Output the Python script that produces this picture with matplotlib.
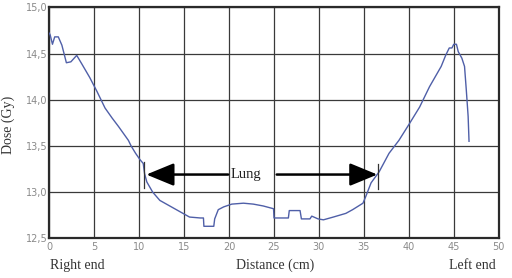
import matplotlib
matplotlib.use("Agg")
import matplotlib.pyplot as plt
from matplotlib.ticker import FuncFormatter

distance_cm = [0.0, 0.1, 0.35, 0.6, 1.0, 1.4, 1.9, 2.4, 3.05, 3.6, 4.5, 5.3, 6.2, 7.0, 7.7,
               8.8, 9.1, 9.6, 10.1, 10.45, 10.6, 10.85, 11.5, 12.3, 13.4, 14.5, 15.6, 16.8,
               17.15, 17.2, 18.3, 18.4, 18.8, 19.4, 20.3, 21.6, 22.7, 23.8, 24.95, 25.0,
               26.6, 26.7, 27.9, 28.05, 29.0, 29.2, 29.9, 30.5, 31.6, 32.3, 33.0, 33.75,
               34.9, 35.2, 35.8, 36.7, 37.8, 38.9, 40.0, 41.2, 42.3, 43.6, 44.1, 44.5,
               44.8, 45.0, 45.3, 45.5, 45.9, 46.2, 46.4, 46.6, 46.7]
dose_gy = [14.72, 14.70, 14.60, 14.68, 14.68, 14.59, 14.40, 14.41, 14.48, 14.39, 14.24,
           14.09, 13.91, 13.80, 13.71, 13.56, 13.50, 13.42, 13.35, 13.31, 13.20, 13.11,
           13.00, 12.91, 12.85, 12.79, 12.73, 12.72, 12.72, 12.63, 12.63, 12.71, 12.81,
           12.84, 12.87, 12.88, 12.87, 12.85, 12.82, 12.72, 12.72, 12.80, 12.80, 12.71,
           12.71, 12.74, 12.71, 12.70, 12.73, 12.75, 12.77, 12.81, 12.88, 12.95, 13.10,
           13.22, 13.42, 13.56, 13.73, 13.92, 14.14, 14.36, 14.48, 14.56, 14.56, 14.60,
           14.60, 14.52, 14.45, 14.36, 14.10, 13.82, 13.55]

x_ticks = [0, 5, 10, 15, 20, 25, 30, 35, 40, 45, 50]
y_ticks = [12.5, 13.0, 13.5, 14.0, 14.5, 15.0]
lung_left = 10.5
lung_right = 36.6
lung_label_x = 21.9
lung_level = 13.19

fig = plt.figure(figsize=(5.12, 2.78), dpi=100)
ax = fig.add_axes([0.0963, 0.1428, 0.8777, 0.8309])

ax.plot(distance_cm, dose_gy, color="#4f5fa8", lw=1.0, zorder=3)

ax.set_xlim(0, 50)
ax.set_ylim(12.5, 15.0)
ax.set_xticks(x_ticks)
ax.set_yticks(y_ticks)
ax.yaxis.set_major_formatter(FuncFormatter(lambda v, p: f"{v:.1f}".replace(".", ",")))
ax.grid(True, color="#3a3a3a", lw=0.9, zorder=1)
ax.tick_params(length=0, labelsize=7, labelcolor="#8a8a8a")
ax.tick_params(axis="y", pad=1.5)
ax.tick_params(axis="x", pad=3)
for s in ax.spines.values():
    s.set_color("#2a2a2a")
    s.set_linewidth(1.6)

# Lung markers and arrows
ax.plot([lung_left, lung_left], [13.04, 13.33], color="#333333", lw=0.9, zorder=4)
ax.plot([lung_right, lung_right], [13.03, 13.30], color="#333333", lw=0.9, zorder=4)
ax.text(lung_label_x, lung_level, "Lung", ha="center", va="center",
        family="Liberation Serif", fontsize=10.5, color="#222222", zorder=5)
arrow_style = "-|>,head_length=1.7,head_width=0.7"
ax.annotate("", xy=(lung_left + 0.3, lung_level), xytext=(19.9, lung_level),
            arrowprops=dict(arrowstyle=arrow_style, color="black", lw=1.8,
                            shrinkA=0, shrinkB=0), zorder=5)
ax.annotate("", xy=(lung_right - 0.1, lung_level), xytext=(25.3, lung_level),
            arrowprops=dict(arrowstyle=arrow_style, color="black", lw=1.8,
                            shrinkA=0, shrinkB=0), zorder=5)

serif = "Liberation Serif"
fig.text(0.098, 0.045, "Right end", ha="left", va="center", family=serif, fontsize=10, color="#333333")
fig.text(0.537, 0.045, "Distance (cm)", ha="center", va="center", family=serif, fontsize=10, color="#333333")
fig.text(0.968, 0.045, "Left end", ha="right", va="center", family=serif, fontsize=10, color="#333333")
fig.text(0.016, 0.55, "Dose (Gy)", ha="center", va="center", rotation=90, family=serif, fontsize=10, color="#333333")

fig.savefig("out.png", dpi=100)
